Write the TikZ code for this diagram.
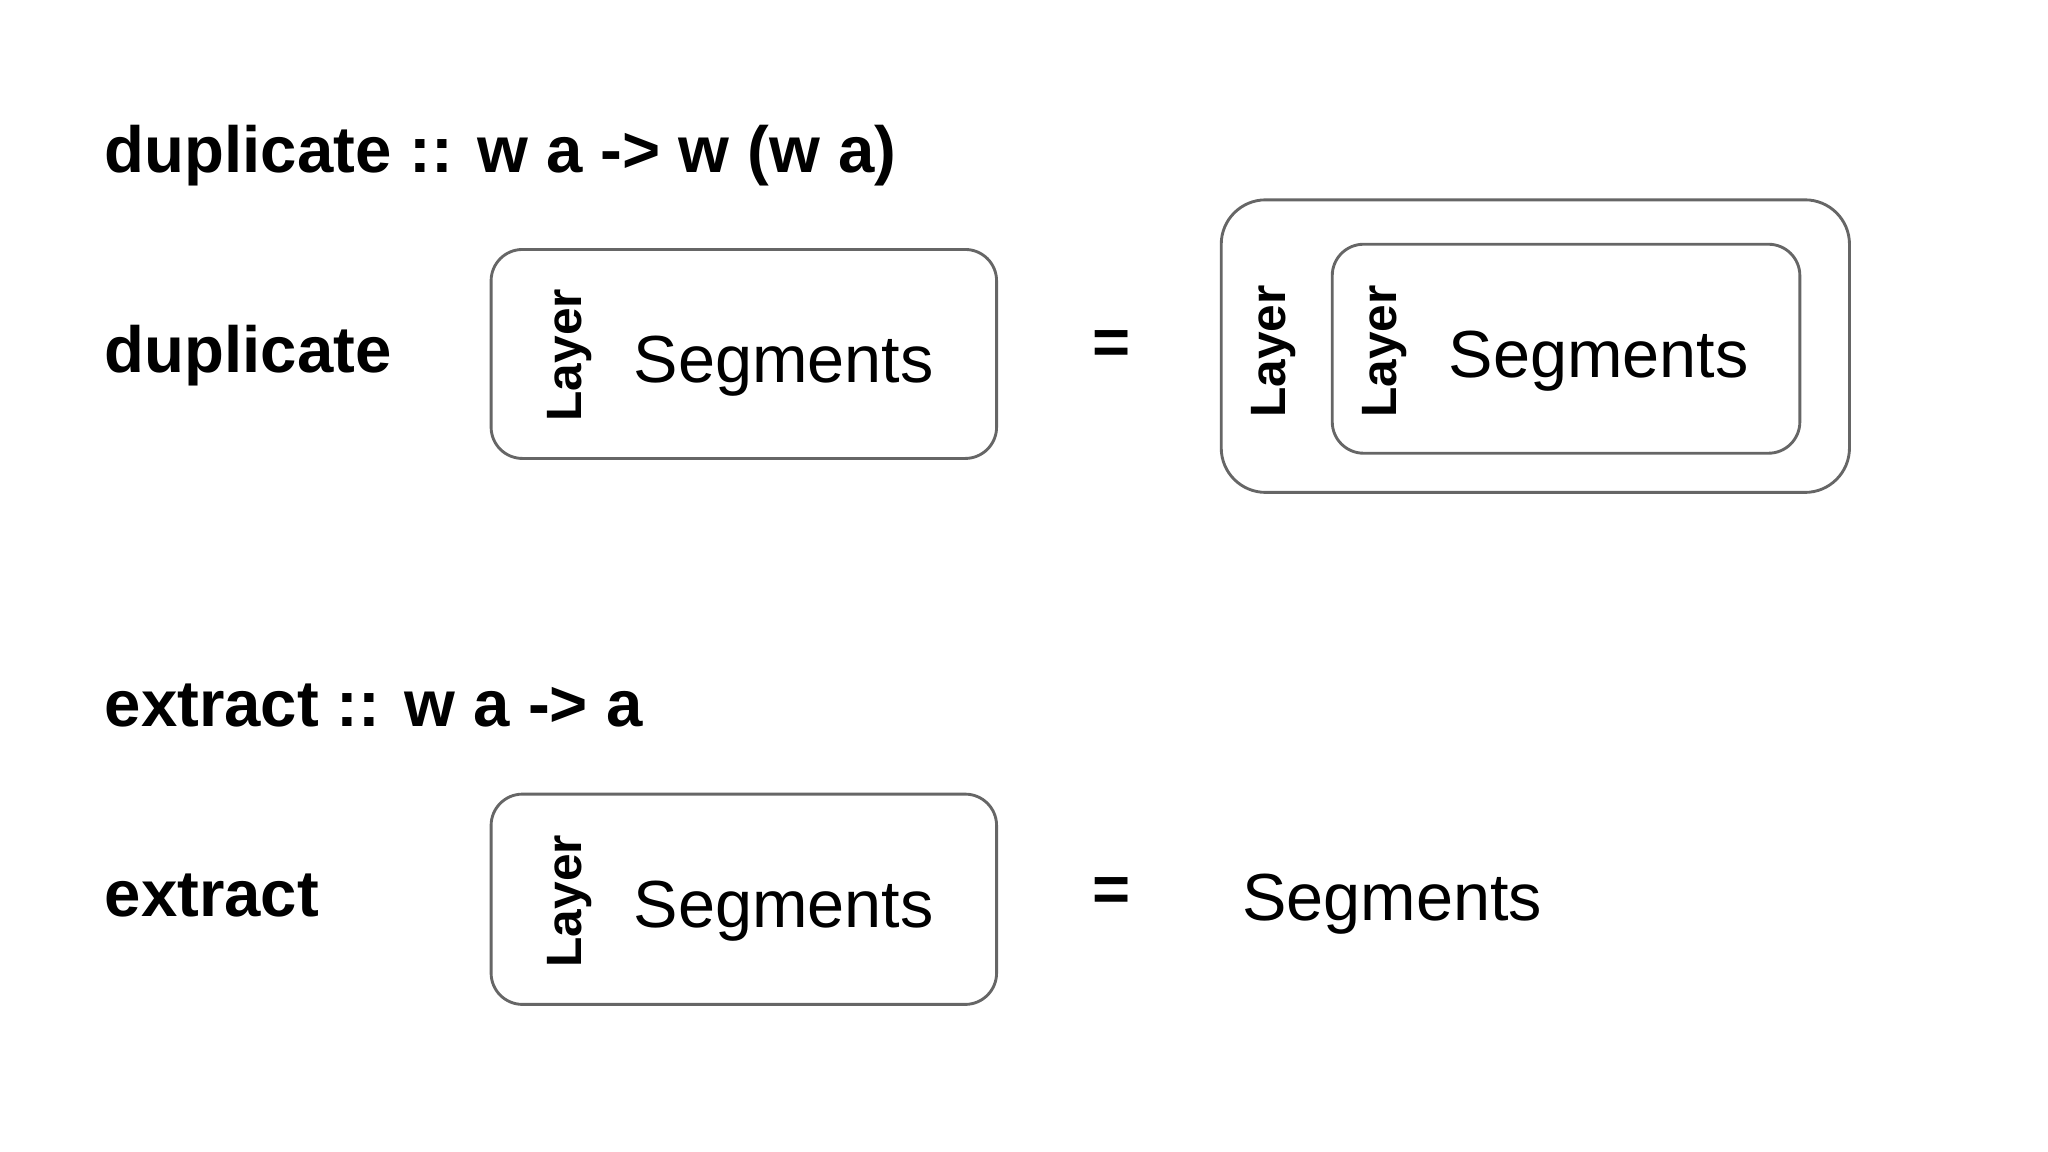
\documentclass[tikz,border=0pt]{standalone}
\usepackage{fontspec}
\setmainfont{Liberation Sans}
\begin{document}
\begin{tikzpicture}[x=1pt,y=-1pt,
  box/.style={draw=black!60,line width=2.2pt,rounded corners=24pt},
  title/.style={anchor=base west,inner sep=0,font=\fontsize{50}{60}\selectfont\bfseries},
  seg/.style={anchor=base west,inner sep=0,font=\fontsize{51}{60}\selectfont},
  layer/.style={rotate=90,inner sep=0,font=\fontsize{38}{45}\selectfont\bfseries},
  eq/.style={inner sep=0,font=\fontsize{50}{60}\selectfont\bfseries}]
\useasboundingbox (0,0) rectangle (1568,882);
\node[title] (t1) at (80,132) {duplicate :: w a -> w (w a)};
\node[title] (d) at (80,285) {duplicate};
\draw[box] (376,191) rectangle (763,351);
\node[layer] (l1) at (436,272) {Layer};
\node[seg] (s1) at (485,293) {Segments};
\node[eq] (e1) at (851,266) {=};
\draw[box,rounded corners=34pt] (935,153) rectangle (1416,377);
\draw[box] (1020,187) rectangle (1378,347);
\node[layer] (l2) at (975,269) {Layer};
\node[layer] (l3) at (1060,269) {Layer};
\node[seg] (s2) at (1109,289) {Segments};
\node[title] (t2) at (80,556) {extract :: w a -> a};
\node[title] (x) at (80,702) {extract};
\draw[box] (376,608) rectangle (763,769);
\node[layer] (l4) at (436,690) {Layer};
\node[seg] (s3) at (485,710) {Segments};
\node[eq] (e2) at (851,685) {=};
\node[seg] (s4) at (951,705) {Segments};
\end{tikzpicture}
\end{document}
